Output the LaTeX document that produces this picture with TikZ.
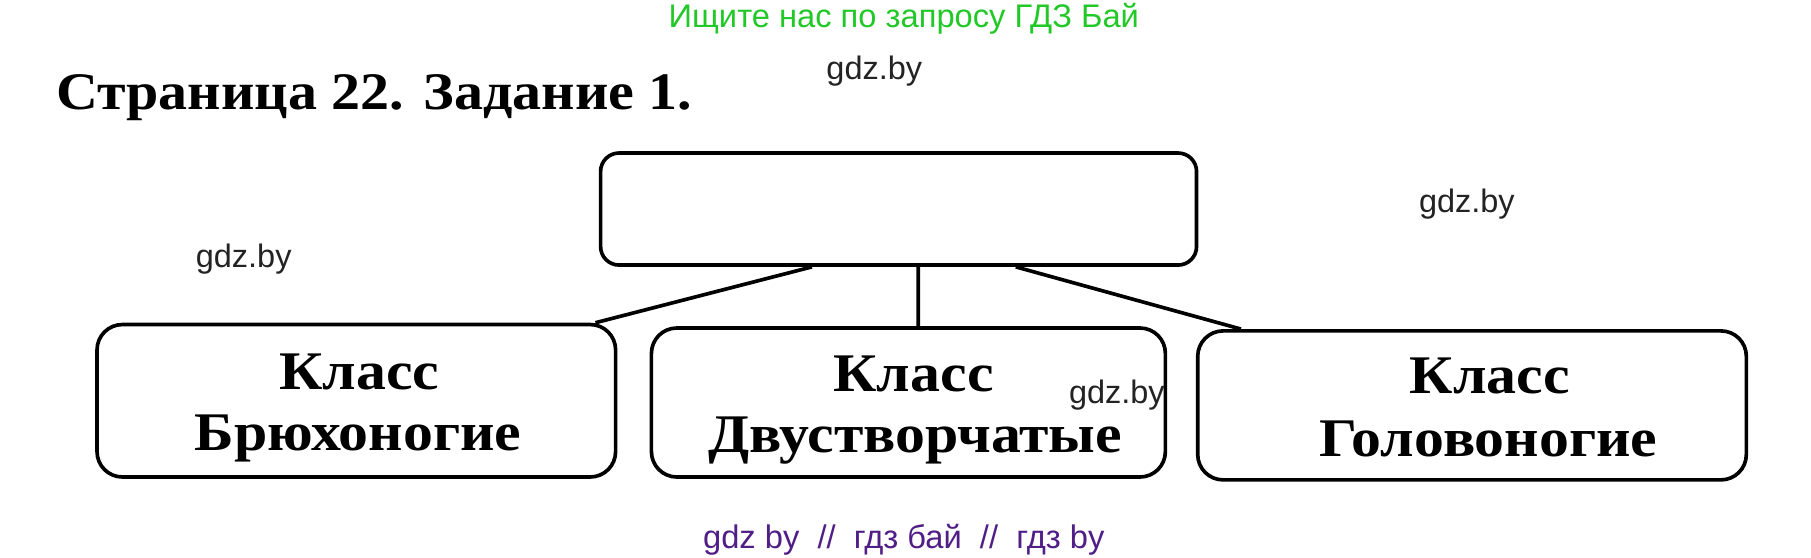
\documentclass[tikz,border=0pt]{standalone}
\usepackage{fontspec}
\setmainfont{Liberation Serif}
\newfontfamily\wmfont{Liberation Sans}
\newfontfamily\scanfont[FakeStretch=1.1]{Liberation Serif}
\definecolor{adgreen}{RGB}{34,200,40}
\definecolor{adpurple}{RGB}{80,30,135}
\definecolor{wmgray}{RGB}{35,35,35}
\begin{document}
\begin{tikzpicture}[box/.style={draw, rounded corners=2.2mm, line width=0.9pt, inner sep=0pt}, cls/.style={anchor=base, inner sep=0pt, font=\scanfont\fontsize{13.4}{15}\selectfont\bfseries}, wm/.style={font=\wmfont\fontsize{8}{9}\selectfont, text=wmgray, inner sep=0pt}, link/.style={line width=0.9pt}]
\useasboundingbox (0,0) rectangle (15.68,-4.83);
\node (ad) at (7.825,-0.235) [anchor=base, inner sep=0pt, font=\wmfont\fontsize{8.05}{9}\selectfont, text=adgreen] {Ищите нас по запросу ГДЗ Бай};
\node (title) at (0.48,-0.95) [anchor=base west, inner sep=0pt, font=\scanfont\fontsize{13}{15}\selectfont\bfseries] {Страница 22. Задание 1.};
\node (wm1) at (7.57,-0.62) [wm] {gdz.by};
\node (wm2) at (12.70,-1.77) [wm] {gdz.by};
\node (wm3) at (2.11,-2.24) [wm] {gdz.by};
\node (top) at (7.78,-1.81) [box, rounded corners=1.6mm, minimum width=5.16cm, minimum height=0.97cm] {};
\node (gastro) at (3.085,-3.47) [box, minimum width=4.49cm, minimum height=1.32cm] {};
\node (bivalve) at (7.865,-3.485) [box, minimum width=4.45cm, minimum height=1.29cm] {};
\node (cephalo) at (12.745,-3.51) [box, minimum width=4.75cm, minimum height=1.29cm] {};
\node (gastroA) at (3.11,-3.37) [cls] {Класс};
\node (gastroB) at (3.10,-3.90) [cls] {Брюхоногие};
\node (bivalveA) at (7.91,-3.39) [cls] {Класс};
\node (bivalveB) at (7.925,-3.92) [cls] {Двустворчатые};
\node (cephaloA) at (12.90,-3.41) [cls] {Класс};
\node (cephaloB) at (12.885,-3.95) [cls] {Головоногие};
\node (wm4) at (9.67,-3.42) [wm] {gdz.by};
\node (foot) at (7.825,-4.745) [anchor=base, inner sep=0pt, font=\wmfont\fontsize{8.05}{9}\selectfont, text=adpurple] {gdz by \ // \ гдз бай \ // \ гдз by};
\draw [link] ([xshift=-7.5mm]top.south) edge ([xshift=-1.9mm]gastro.north east) ([xshift=1.7mm]top.south) edge ([xshift=0.85mm]bivalve.north) ([xshift=10.15mm]top.south) edge ([xshift=3.9mm]cephalo.north west);
\end{tikzpicture}
\end{document}
